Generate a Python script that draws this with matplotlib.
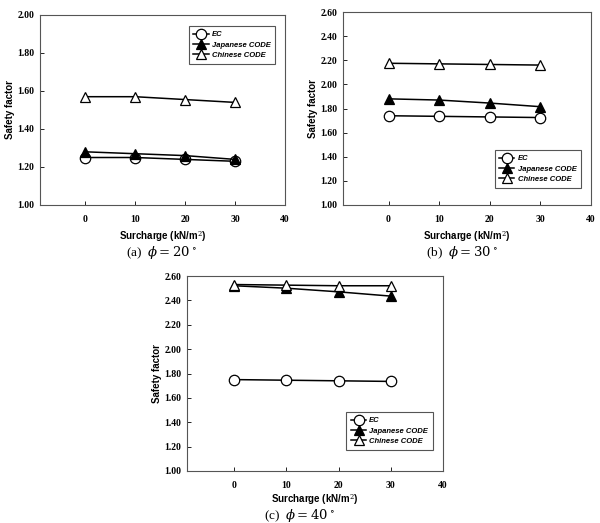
import matplotlib
matplotlib.use("Agg")
import matplotlib.pyplot as plt

SURCHARGE = [0, 10, 20, 30]
SERIES_NAMES = ["EC", "Japanese CODE", "Chinese CODE"]

EC_20 = [1.25, 1.25, 1.24, 1.23]
JP_20 = [1.28, 1.27, 1.26, 1.24]
CN_20 = [1.57, 1.57, 1.555, 1.54]

EC_30 = [1.74, 1.735, 1.73, 1.725]
JP_30 = [1.88, 1.87, 1.845, 1.815]
CN_30 = [2.175, 2.17, 2.165, 2.16]

EC_40 = [1.75, 1.745, 1.74, 1.735]
JP_40 = [2.52, 2.50, 2.47, 2.435]
CN_40 = [2.53, 2.525, 2.52, 2.52]

Y_TICKS_A = [1.0, 1.2, 1.4, 1.6, 1.8, 2.0]
Y_TICKS_BC = [1.0, 1.2, 1.4, 1.6, 1.8, 2.0, 2.2, 2.4, 2.6]
X_TICKS = [0, 10, 20, 30, 40]

CAPTIONS = ["(a)  $\\phi = 20\\,^{\\circ}$", "(b)  $\\phi = 30\\,^{\\circ}$",
            "(c)  $\\phi = 40\\,^{\\circ}$"]

plt.rcParams["mathtext.fontset"] = "dejavuserif"

W, H = 600, 523
fig = plt.figure(figsize=(6.0, 5.23), dpi=100)


def px_axes(left, top, right, bottom):
    return fig.add_axes([left / W, (H - bottom) / H, (right - left) / W, (bottom - top) / H])


def draw_panel(ax, ec, jp, cn, yticks, legend_loc, legend_anchor, xlabelpad=4):
    ax.plot(SURCHARGE, ec, color="black", lw=1.1, marker="o", ms=7.5,
            mfc="white", mec="black", mew=0.9, label=SERIES_NAMES[0])
    ax.plot(SURCHARGE, jp, color="black", lw=1.1, marker="^", ms=7.5,
            mfc="black", mec="black", mew=0.9, label=SERIES_NAMES[1])
    ax.plot(SURCHARGE, cn, color="black", lw=1.1, marker="^", ms=7.5,
            mfc="white", mec="black", mew=0.9, label=SERIES_NAMES[2])
    ax.set_xlim(-9, 40)
    ax.set_ylim(yticks[0], yticks[-1])
    ax.set_xticks(X_TICKS)
    ax.set_yticks(yticks)
    ax.set_yticklabels([f"{v:.2f}" for v in yticks])
    for lab in ax.get_xticklabels() + ax.get_yticklabels():
        lab.set_family("Liberation Serif")
        lab.set_fontweight("bold")
        lab.set_fontsize(7)
    ax.tick_params(direction="in", length=3, width=0.6, pad=7)
    ax.tick_params(axis="y", pad=4)
    for sp in ax.spines.values():
        sp.set_color("#555555")
        sp.set_linewidth(0.8)
    ax.set_xlabel("Surcharge (kN/m$^2$)", fontsize=7, fontweight="bold",
                  family="Liberation Sans", labelpad=xlabelpad)
    ax.set_ylabel("Safety factor", fontsize=7, fontweight="bold",
                  family="Liberation Sans", labelpad=2)
    leg = ax.legend(loc=legend_loc, bbox_to_anchor=legend_anchor, fancybox=False,
                    edgecolor="#555555", framealpha=1, handlelength=2.0,
                    handletextpad=0.4, borderpad=0.6, labelspacing=0.4,
                    prop={"family": "Liberation Sans", "style": "italic",
                          "weight": "bold", "size": 5.5})
    leg.get_frame().set_linewidth(0.8)


ax_a = px_axes(40, 15, 285, 205)
draw_panel(ax_a, EC_20, JP_20, CN_20, Y_TICKS_A, "upper right", (0.975, 0.96))

ax_b = px_axes(343, 12, 591, 205)
draw_panel(ax_b, EC_30, JP_30, CN_30, Y_TICKS_BC, "lower right", (0.975, 0.07))

ax_c = px_axes(187, 276, 443, 471)
draw_panel(ax_c, EC_40, JP_40, CN_40, Y_TICKS_BC, "lower right", (0.975, 0.09),
           xlabelpad=2)

fig.text(162 / W, 1 - 253 / H, CAPTIONS[0], ha="center", va="center",
         family="Liberation Serif", fontsize=9.5)
fig.text(462 / W, 1 - 253 / H, CAPTIONS[1], ha="center", va="center",
         family="Liberation Serif", fontsize=9.5)
fig.text(300 / W, 1 - 516 / H, CAPTIONS[2], ha="center", va="center",
         family="Liberation Serif", fontsize=9.5)

fig.savefig("out.png", dpi=100, facecolor="white")
